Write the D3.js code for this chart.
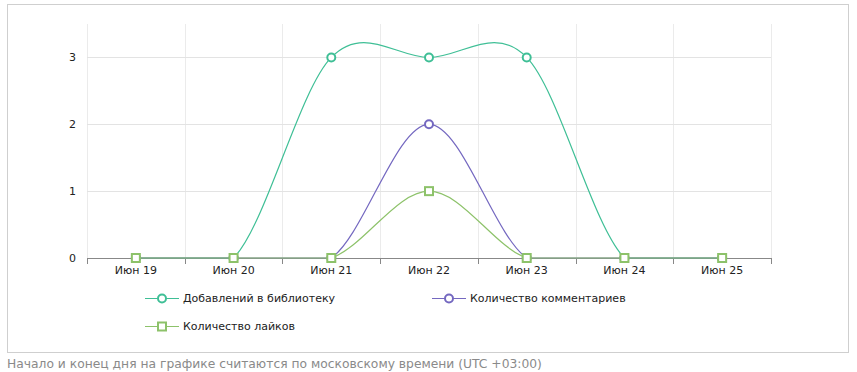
<!DOCTYPE html>
<html>
<head>
<meta charset="utf-8">
<script src="https://cdn.jsdelivr.net/npm/d3@7"></script>
<style>
	body { margin: 0; background: #fff; font-family: "DejaVu Sans", sans-serif; }
	#note { position: absolute; left: 7px; top: 357px; font-size: 12.3px; color: #8a8a8a; }
</style>
</head>
<body>
<div id="chart"></div>
<div id="note">Начало и конец дня на графике считаются по московскому времени (UTC +03:00)</div>
<script>
let days = ["Июн 19", "Июн 20", "Июн 21", "Июн 22", "Июн 23", "Июн 24", "Июн 25"];
let library = [0, 0, 3, 3, 3, 0, 0];
let comments = [0, 0, 0, 2, 0, 0, 0];
let likes = [0, 0, 0, 1, 0, 0, 0];
let yTicks = [0, 1, 2, 3];

let series = [
	{name: "Добавлений в библиотеку", values: library, color: "#3fbf96", marker: "circle"},
	{name: "Количество комментариев", values: comments, color: "#7468c0", marker: "circle"},
	{name: "Количество лайков", values: likes, color: "#8dc26a", marker: "square"}
];

let W = 857, H = 372;
let plotL = 87, plotR = 771, plotT = 24, plotB = 258;

let svg = d3.select("#chart").append("svg")
	.attr("width", W)
	.attr("height", H)
	.style("position", "absolute")
	.style("left", 0)
	.style("top", 0);

svg.append("rect")
	.attr("x", 7.5).attr("y", 4.5)
	.attr("width", 841).attr("height", 348)
	.attr("fill", "none")
	.attr("stroke", "#cfcfcf");

let x = d3.scaleBand().domain(days).range([plotL, plotR]);
let y = d3.scaleLinear().domain([0, 3.5]).range([plotB, plotT]);

// grid
let bounds = days.map(d => x(d)).concat([plotR]);
svg.selectAll(".vgrid")
	.data(bounds)
	.enter().append("line")
	.attr("x1", d => Math.round(d) + 0.5).attr("x2", d => Math.round(d) + 0.5)
	.attr("y1", plotT).attr("y2", plotB)
	.attr("stroke", "#ebebeb");

svg.selectAll(".hgrid")
	.data(yTicks.slice(1))
	.enter().append("line")
	.attr("x1", plotL).attr("x2", plotR)
	.attr("y1", d => Math.round(y(d)) + 0.5).attr("y2", d => Math.round(y(d)) + 0.5)
	.attr("stroke", "#e3e3e3");

svg.selectAll(".ylab")
	.data(yTicks)
	.enter().append("text")
	.attr("x", 76)
	.attr("y", d => y(d) + 4)
	.attr("text-anchor", "end")
	.attr("font-size", 11)
	.attr("fill", "#222")
	.text(d => d);

// x axis
svg.append("line")
	.attr("x1", plotL).attr("x2", plotR)
	.attr("y1", plotB + 0.5).attr("y2", plotB + 0.5)
	.attr("stroke", "#888");
svg.selectAll(".xtick")
	.data(bounds)
	.enter().append("line")
	.attr("x1", d => Math.round(d) + 0.5).attr("x2", d => Math.round(d) + 0.5)
	.attr("y1", plotB).attr("y2", plotB + 6)
	.attr("stroke", "#888");
svg.selectAll(".xlab")
	.data(days)
	.enter().append("text")
	.attr("x", d => x(d) + x.bandwidth() / 2)
	.attr("y", 274)
	.attr("text-anchor", "middle")
	.attr("font-size", 11)
	.attr("fill", "#222")
	.text(d => d);

// spline, control points kept inside value range
function spline(values) {
	let p = d3.path();
	let lo = y.domain()[0], hi = y.domain()[1];
	let clamp = v => Math.max(lo, Math.min(hi, v));
	let cx = i => x(days[i]) + x.bandwidth() / 2;
	let n = values.length;
	p.moveTo(cx(0), y(values[0]));
	for (let i = 0; i < n - 1; i++) {
		let prev = values[Math.max(0, i - 1)];
		let next2 = values[Math.min(n - 1, i + 2)];
		let c1 = clamp(values[i] + (values[i + 1] - prev) / 6);
		let c2 = clamp(values[i + 1] - (next2 - values[i]) / 6);
		let dx = (cx(i + 1) - cx(i)) / 3;
		p.bezierCurveTo(cx(i) + dx, y(c1), cx(i + 1) - dx, y(c2), cx(i + 1), y(values[i + 1]));
	}
	return p.toString();
}

function drawMarkers(g, s, pts) {
	if (s.marker === "circle") {
		g.selectAll("circle")
			.data(pts)
			.enter().append("circle")
			.attr("cx", d => d.x).attr("cy", d => d.y)
			.attr("r", 4)
			.attr("fill", "#fff")
			.attr("stroke", s.color)
			.attr("stroke-width", 2);
	} else {
		g.selectAll("rect")
			.data(pts)
			.enter().append("rect")
			.attr("x", d => d.x - 4).attr("y", d => d.y - 4)
			.attr("width", 8).attr("height", 8)
			.attr("fill", "#fff")
			.attr("stroke", s.color)
			.attr("stroke-width", 2);
	}
}

series.forEach(function(s) {
	let g = svg.append("g");
	g.append("path")
		.attr("d", spline(s.values))
		.attr("fill", "none")
		.attr("stroke", s.color)
		.attr("stroke-width", 1.2);
	drawMarkers(g, s, s.values.map((v, i) => ({x: x(days[i]) + x.bandwidth() / 2, y: y(v)})));
});

// legend
let legendPos = [[145, 298], [432, 298], [145, 326]];
series.forEach(function(s, i) {
	let lx = legendPos[i][0], ly = legendPos[i][1];
	let g = svg.append("g");
	g.append("line")
		.attr("x1", lx).attr("x2", lx + 34)
		.attr("y1", ly + 0.5).attr("y2", ly + 0.5)
		.attr("stroke", s.color)
		.attr("stroke-width", 1.2);
	drawMarkers(g, s, [{x: lx + 17, y: ly + 0.5}]);
	g.append("text")
		.attr("x", lx + 38)
		.attr("y", ly + 4)
		.attr("font-size", 11)
		.attr("fill", "#222")
		.text(s.name);
});
</script>
</body>
</html>
